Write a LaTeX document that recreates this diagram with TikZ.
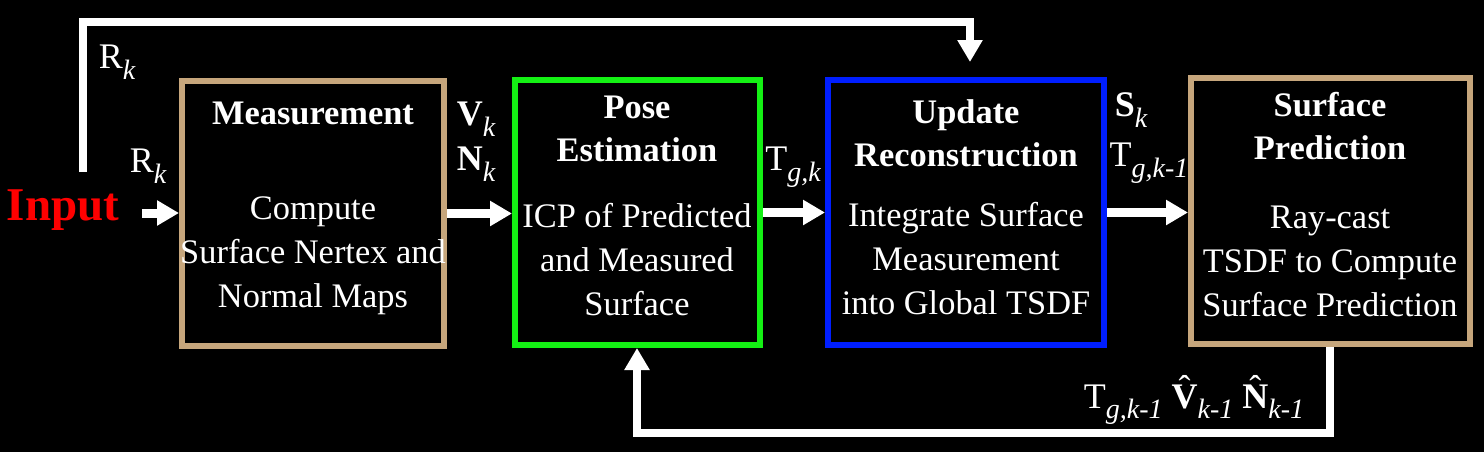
\documentclass[tikz,border=0pt]{standalone}
\usepackage{fontspec}
\setmainfont{Liberation Serif}
\usetikzlibrary{arrows.meta}

\definecolor{tanbox}{RGB}{198,166,124}
\definecolor{greenbox}{RGB}{20,240,20}
\definecolor{bluebox}{RGB}{0,30,255}

% lowered italic index and hat over a capital
\newcommand{\idx}[1]{\raisebox{-0.3em}{\fontsize{14}{14}\selectfont\itshape #1}}
\newcommand{\hatover}[1]{{\setbox0\hbox{#1}\rlap{\hbox to\wd0{\hss\raisebox{0.22em}{ˆ}\hss}}\box0}}

\begin{document}
\begin{tikzpicture}[x=0.5pt,y=-0.5pt]

\tikzstyle{block}=[rectangle, line width=3pt, inner sep=0pt, minimum height=132.5pt]
\tikzstyle{title}=[text=white, font=\fontsize{17.2}{21.5}\selectfont\bfseries, align=center, inner sep=0pt]
\tikzstyle{body}=[text=white, font=\fontsize{17.2}{22}\selectfont, align=center, inner sep=0pt]
\tikzstyle{lbl}=[text=white, font=\fontsize{18}{20}\selectfont, inner sep=0pt]
\tikzstyle{connect}=[-{Triangle[width=12pt,length=11pt]}, white, line width=4.5pt]
\tikzstyle{feedback}=[-{Triangle[width=12pt,length=11pt]}, white, line width=4pt]

\fill[black] (0,0) rectangle (1484,452);
\useasboundingbox (0,0) rectangle (1484,452);

% blocks
\node[block, draw=tanbox, minimum width=131pt] (meas) at (313,213.5) {};
\node[block, draw=greenbox, minimum width=122.5pt] (pose) at (637.5,212.5) {};
\node[block, draw=bluebox, minimum width=138pt] (upd) at (966,212.5) {};
\node[block, draw=tanbox, minimum width=139.5pt, minimum height=133pt] (surf) at (1330.5,211) {};

\node[title] (meastitle) at (313,113) {Measurement};
\node[body] (measbody) at (313,256) {Compute\\Surface Nertex and\\Normal Maps};
\node[title] (posetitle) at (637,128.5) {Pose\\Estimation};
\node[body] (posebody) at (637,260) {ICP of Predicted\\and Measured\\Surface};
\node[title] (updtitle) at (966,133.5) {Update\\Reconstruction};
\node[body] (updbody) at (966,259) {Integrate Surface\\Measurement\\into Global TSDF};
\node[title] (surftitle) at (1330,126.5) {Surface\\Prediction};
\node[body] (surfbody) at (1330,261) {Ray-cast\\TSDF to Compute\\Surface Prediction};

% labels
\node[text=red, font=\fontsize{23.5}{24}\selectfont\bfseries, inner sep=0pt] (input) at (63,210) {Input};
\node[lbl] (rtop) at (117,62) {R\idx{k}};
\node[lbl] (rin) at (148,166) {R\idx{k}};
\node[lbl] (vk) at (476,119) {\textbf{V}\idx{k}};
\node[lbl] (nk) at (476,164) {\textbf{N}\idx{k}};
\node[lbl] (tgk) at (793,167) {T\idx{g,k}};
\node[lbl] (sk) at (1131,110) {\textbf{S}\idx{k}};
\node[lbl] (tgkm) at (1149,163) {T\idx{g,k-1}};
\node[lbl] (pred) at (1194,400) {T\idx{g,k-1}\ \hatover{\textbf{V}}\idx{k-1}\ \hatover{\textbf{N}}\idx{k-1}};

% connectors
\coordinate (inp) at (142,213);
\coordinate (fbin) at (83,172);
\coordinate (fbtop) at (970,22);
\coordinate (fbbot) at (637,433);

\draw[connect] (inp) -- (inp -| meas.west);
\draw[connect] (meas.east) -- (meas.east -| pose.west);
\draw[connect] (pose.east) -- (pose.east -| upd.west);
\draw[connect] (upd.east) -- (upd.east -| surf.west);
\draw[feedback, shorten >=7.5pt] (fbin) |- (fbtop) -- (fbtop |- upd.north);
\draw[feedback] ([xshift=-0.5pt]surf.south) |- (fbbot) -- (fbbot |- pose.south);

\end{tikzpicture}
\end{document}
